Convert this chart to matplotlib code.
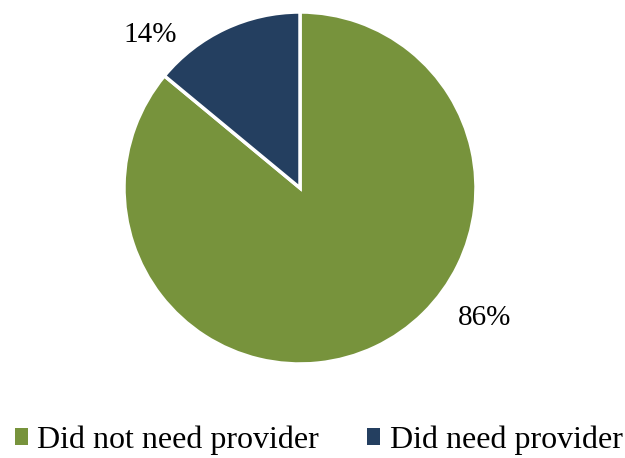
import matplotlib.pyplot as plt
from matplotlib.patches import Patch

categories = ["Did not need provider", "Did need provider"]
shares = [86, 14]
colors = ["#77933C", "#243F60"]

plt.rcParams["font.family"] = ["Liberation Serif", "DejaVu Serif"]

fig = plt.figure(figsize=(6.25, 4.58), dpi=100)
ax = fig.add_axes([124 / 625, 94 / 458, 352 / 625, 352 / 458])

wedges, _ = ax.pie(
    shares,
    colors=colors,
    startangle=90,
    counterclock=False,
    radius=1.0,
    wedgeprops=dict(edgecolor="white", linewidth=2.5),
)
ax.set_xlim(-1, 1)
ax.set_ylim(-1, 1)
ax.set_aspect("equal")

# percentage labels placed outside the slices
label_pos = [(1.05, -0.74), (-0.85, 0.87)]
for (x, y), v in zip(label_pos, shares):
    ax.text(x, y, f"{v}%", ha="center", va="center", fontsize=21)

handles = [Patch(facecolor=c, edgecolor="none") for c in colors]
fig.legend(
    handles,
    categories,
    loc="lower center",
    bbox_to_anchor=(0.51, -0.042),
    ncol=2,
    frameon=False,
    fontsize=23,
    handlelength=0.4,
    handleheight=0.4,
    handletextpad=0.3,
    columnspacing=1.5,
    borderpad=0.2,
)

fig.savefig("out.png", dpi=100)
